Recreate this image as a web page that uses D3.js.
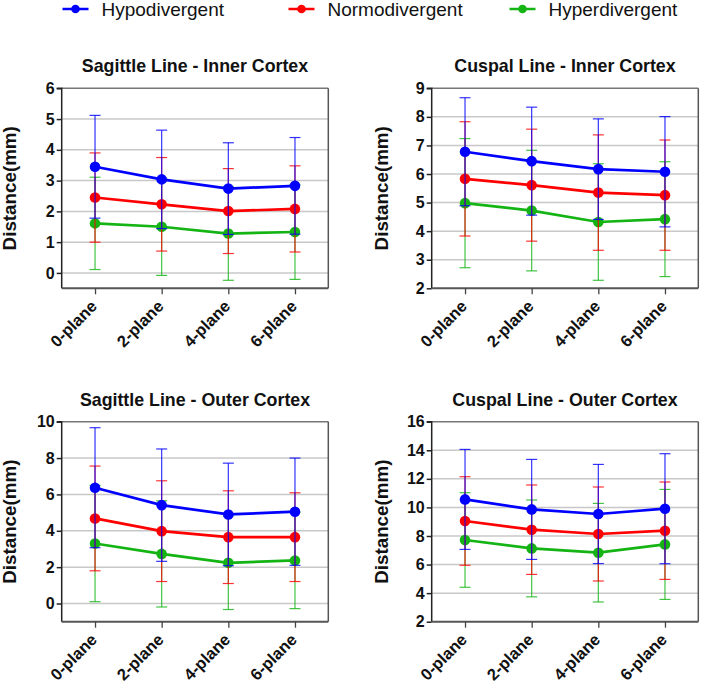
<!DOCTYPE html>
<html><head><meta charset="utf-8">
<script src="https://cdn.jsdelivr.net/npm/d3@7"></script>
<style>
html,body{margin:0;padding:0;background:#fff;}
svg{display:block;font-family:"Liberation Sans",Arial,sans-serif;}
</style></head>
<body><svg id="chart" width="701" height="684"></svg>
<script>
// ---- data ----
const categories = ["0-plane", "2-plane", "4-plane", "6-plane"];
const seriesNames = ["Hypodivergent", "Normodivergent", "Hyperdivergent"];
const seriesColors = ["#0000ff", "#ff0000", "#14b414"];

const panelTitles = ["Sagittle Line - Inner Cortex", "Cuspal Line - Inner Cortex",
                     "Sagittle Line - Outer Cortex", "Cuspal Line - Outer Cortex"];
const yDomains = [[-0.5, 6], [2, 9], [-1, 10], [2, 16]];
const yTicks = [[0, 1, 2, 3, 4, 5, 6], [2, 3, 4, 5, 6, 7, 8, 9],
                [0, 2, 4, 6, 8, 10], [2, 4, 6, 8, 10, 12, 14, 16]];

// means per series [hypo, normo, hyper]
const sagInnerMean = [[3.45, 3.04, 2.74, 2.83], [2.45, 2.23, 2.01, 2.08], [1.61, 1.50, 1.28, 1.33]];
const sagInnerSD   = [[1.67, 1.60, 1.49, 1.57], [1.45, 1.52, 1.38, 1.40], [1.50, 1.58, 1.52, 1.54]];
const cusInnerMean = [[6.78, 6.45, 6.17, 6.08], [5.83, 5.61, 5.35, 5.26], [4.98, 4.72, 4.32, 4.42]];
const cusInnerSD   = [[1.89, 1.89, 1.76, 1.93], [2.00, 1.96, 2.02, 1.93], [2.26, 2.11, 2.04, 2.01]];
const sagOuterMean = [[6.37, 5.41, 4.90, 5.05], [4.68, 3.98, 3.65, 3.65], [3.30, 2.73, 2.24, 2.37]];
const sagOuterSD   = [[3.30, 3.09, 2.82, 2.95], [2.88, 2.77, 2.55, 2.44], [3.20, 2.92, 2.57, 2.65]];
const cusOuterMean = [[10.56, 9.86, 9.54, 9.91], [9.05, 8.44, 8.14, 8.37], [7.72, 7.13, 6.83, 7.41]];
const cusOuterSD   = [[3.50, 3.50, 3.47, 3.85], [3.10, 3.13, 3.29, 3.41], [3.31, 3.39, 3.45, 3.85]];

const panelMeans = [sagInnerMean, cusInnerMean, sagOuterMean, cusOuterMean];
const panelSDs = [sagInnerSD, cusInnerSD, sagOuterSD, cusOuterSD];

// ---- layout ----
const svg = d3.select("#chart");
const plotW = 266.6, plotH = 200;
const panelPos = [[61.7, 88.3], [431.7, 88.3], [61.7, 421.7], [431.7, 421.7]];
const labelOffset = [46, 44, 46, 44];

// legend
const legendX = [62.5, 288.5, 509.5];
seriesNames.forEach((name, i) => {
  const g = svg.append("g").attr("transform", `translate(${legendX[i]},9)`);
  g.append("line").attr("x1", 0).attr("x2", 26).attr("y1", 0).attr("y2", 0)
    .attr("stroke", seriesColors[i]).attr("stroke-width", 2.5);
  g.append("circle").attr("cx", 13).attr("cy", 0).attr("r", 4.3).attr("fill", seriesColors[i]);
  g.append("text").attr("x", 39).attr("y", 6.8).attr("font-size", 19)
    .attr("fill", "#111").text(name);
});

panelTitles.forEach((title, p) => {
  const [px, py] = panelPos[p];
  const g = svg.append("g").attr("transform", `translate(${px},${py})`);
  const x = d3.scalePoint().domain(categories).range([0, plotW]).padding(0.5);
  const y = d3.scaleLinear().domain(yDomains[p]).range([plotH, 0]);

  // grid
  g.append("g").selectAll("line").data(yTicks[p].filter(t => t !== yDomains[p][0] && t !== yDomains[p][1]))
    .join("line").attr("x1", 0).attr("x2", plotW)
    .attr("y1", d => y(d)).attr("y2", d => y(d))
    .attr("stroke", "#c8c8c8").attr("stroke-width", 1.5);

  // frame top and right
  g.append("line").attr("x1", 0).attr("x2", plotW).attr("y1", 0).attr("y2", 0)
    .attr("stroke", "#777").attr("stroke-width", 1.5);
  g.append("line").attr("x1", plotW).attr("x2", plotW).attr("y1", 0).attr("y2", plotH)
    .attr("stroke", "#555").attr("stroke-width", 1.5);

  // y axis
  const ya = g.append("g").call(d3.axisLeft(y).tickValues(yTicks[p]).tickSize(5).tickPadding(2).tickFormat(d3.format("d")));
  ya.select(".domain").attr("stroke", "#222").attr("stroke-width", 1.5).attr("d", `M-5,0H0V${plotH}`);
  ya.selectAll(".tick line").attr("stroke", "#222").attr("stroke-width", 1.5);
  ya.selectAll(".tick text").attr("font-size", 16).attr("font-weight", "bold").attr("fill", "#111")
    .attr("font-family", "Liberation Sans, Arial, sans-serif");

  // x axis
  const xa = g.append("g").attr("transform", `translate(0,${plotH})`)
    .call(d3.axisBottom(x).tickSize(6).tickFormat(""));
  xa.select(".domain").attr("stroke", "#555").attr("stroke-width", 2).attr("d", `M0,0H${plotW}`);
  xa.selectAll(".tick line").attr("stroke", "#444").attr("stroke-width", 1.3);
  g.append("g").selectAll("text").data(categories).join("text")
    .attr("transform", d => `translate(${x(d) + 3},${plotH + 19}) rotate(-45)`)
    .attr("text-anchor", "end").attr("font-size", 16.5).attr("font-weight", "bold")
    .attr("fill", "#111").text(d => d);

  // title
  g.append("text").attr("x", plotW / 2).attr("y", -16).attr("text-anchor", "middle")
    .attr("font-size", 17.8).attr("font-weight", "bold").attr("fill", "#111").text(title);

  // y label
  g.append("text").attr("transform", `translate(${-labelOffset[p]},${plotH / 2}) rotate(-90)`)
    .attr("text-anchor", "middle").attr("font-size", 18.8).attr("font-weight", "bold")
    .attr("fill", "#111").text("Distance(mm)");

  // series: draw hyper, normo, hypo (blue on top)
  const order = [2, 1, 0];
  order.forEach(s => {
    const means = panelMeans[p][s], sds = panelSDs[p][s];
    const pts = categories.map((c, i) => ({c, m: means[i], sd: sds[i]}));
    const col = seriesColors[s];
    g.append("path").datum(pts)
      .attr("d", d3.line().x(d => x(d.c)).y(d => y(d.m)))
      .attr("fill", "none").attr("stroke", col).attr("stroke-width", 2.7);
    g.append("g").selectAll("circle").data(pts).join("circle")
      .attr("cx", d => x(d.c)).attr("cy", d => y(d.m)).attr("r", 5.3).attr("fill", col);
    const eb = g.append("g").attr("stroke", col).attr("stroke-width", 1.2).attr("stroke-opacity", 0.8);
    pts.forEach(d => {
      const cx = x(d.c);
      eb.append("line").attr("x1", cx).attr("x2", cx).attr("y1", y(d.m - d.sd)).attr("y2", y(d.m + d.sd));
      eb.append("line").attr("x1", cx - 5.5).attr("x2", cx + 5.5).attr("y1", y(d.m - d.sd)).attr("y2", y(d.m - d.sd));
      eb.append("line").attr("x1", cx - 5.5).attr("x2", cx + 5.5).attr("y1", y(d.m + d.sd)).attr("y2", y(d.m + d.sd));
    });
  });
});
</script></body></html>
